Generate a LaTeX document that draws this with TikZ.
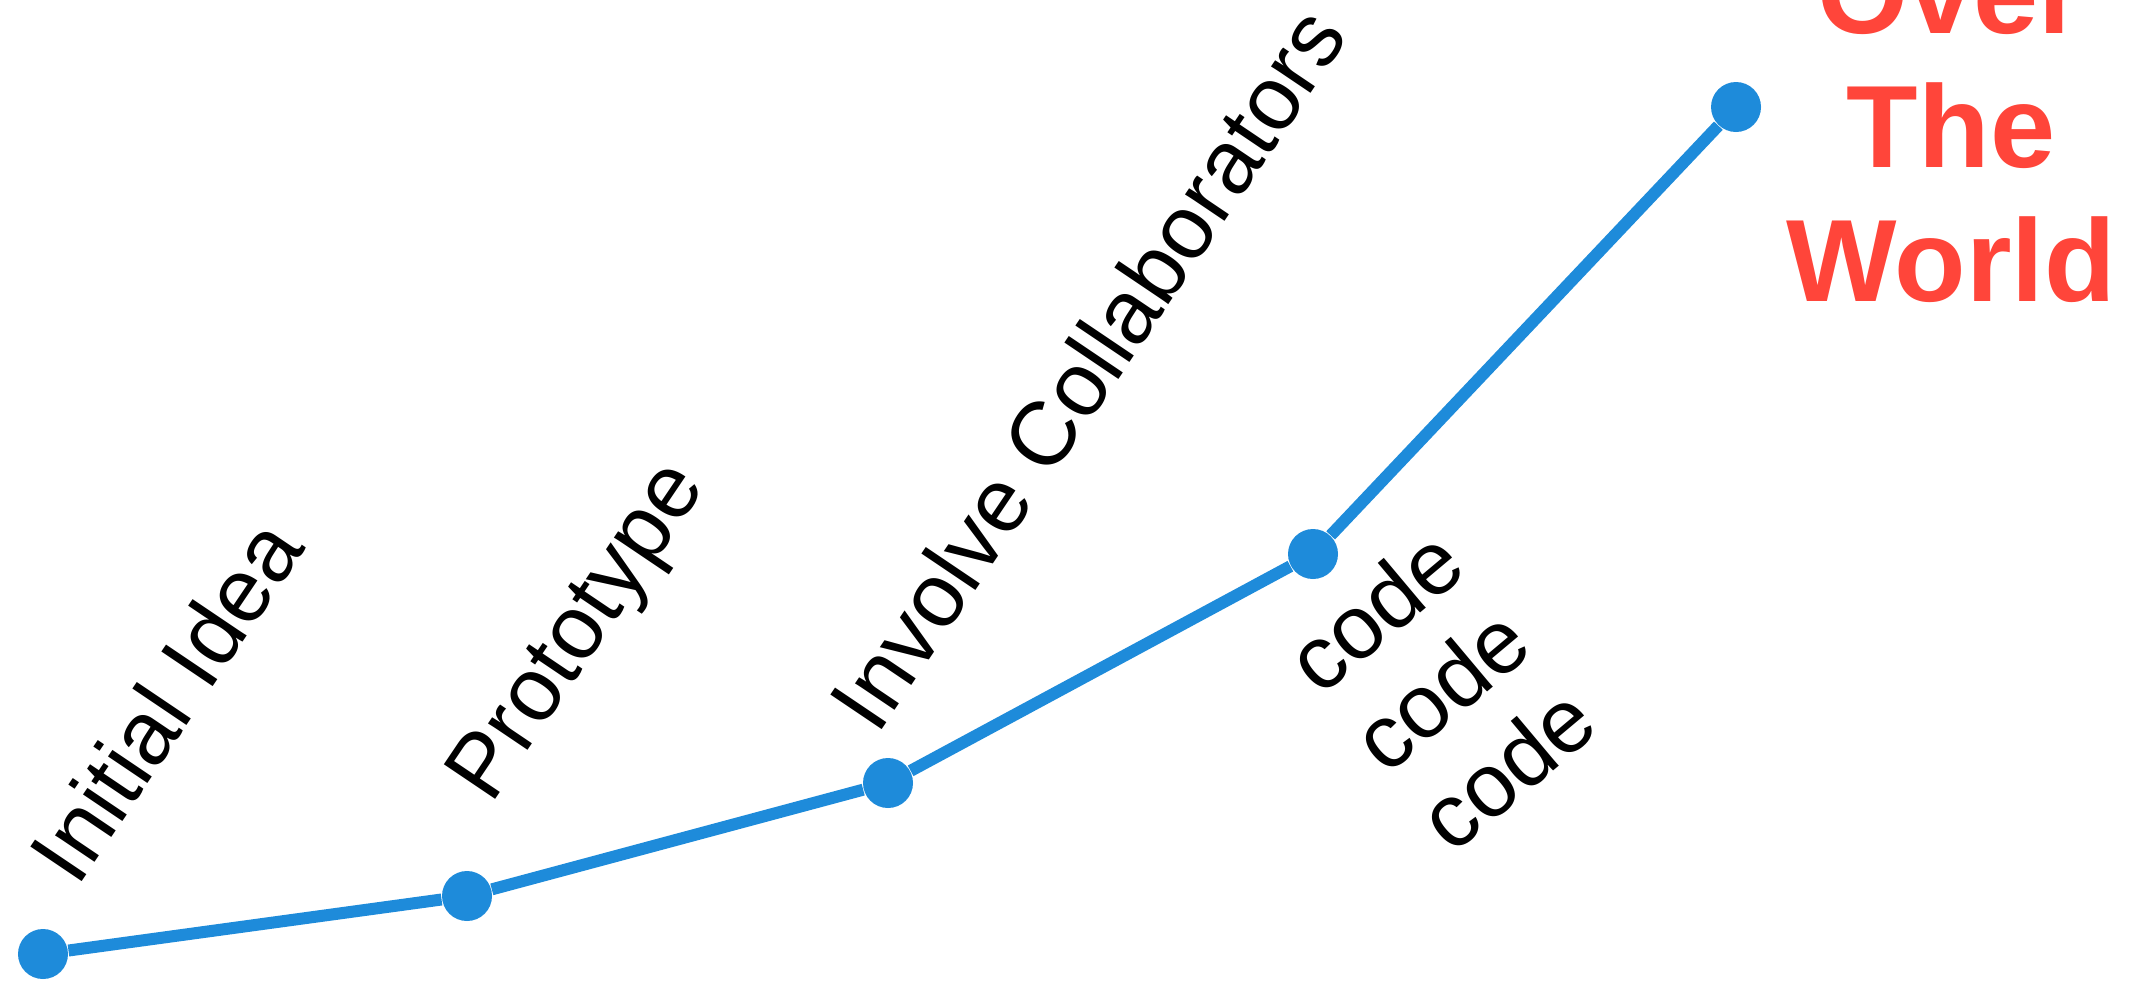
\documentclass[tikz,border=0pt]{standalone}
\usepackage{fontspec}
\setmainfont{Liberation Sans}
\usetikzlibrary{positioning}
\usetikzlibrary{calc}
\definecolor{track}{RGB}{30,139,218}
\definecolor{goal}{RGB}{255,69,58}
\newcommand\dotsize{0.5}
\newcommand\stagetilt{56}
\newcommand\codetilt{40}

\begin{document}
\begin{tikzpicture}
    \useasboundingbox (0, 0) rectangle (21.48, 9.8);
    \clip (0, 0) rectangle (21.48, 9.8);

    \tikzset{
        milestone/.style={
            circle, fill=track,
            inner sep=0pt,
            minimum size={\dotsize cm},
        },
        stage label/.style={
            inner sep=0pt, anchor=base west,
            font=\fontsize{25.6pt}{29.3pt}\selectfont,
        },
    }

    % Milestones
    \node[milestone] (idea) at (0.43, 0.26) {};
    \node[milestone] (prototype) at (4.67, 0.84) {};
    \node[milestone] (collab) at (8.88, 1.97) {};
    \node[milestone] (coding) at (13.13, 4.26) {};
    \node[milestone] (world) at (17.36, 8.73) {};

    % Track
    \draw[track, line width=0.12cm]
        (idea) -- (prototype) -- (collab) -- (coding) -- (world);

    % Labels (multi-line nodes sit on their last line)
    \node[stage label, rotate=\stagetilt] (idea-label) at (0.77, 0.91) {Initial Idea};
    \node[stage label, rotate=\stagetilt] (prototype-label) at (4.91, 1.74) {Prototype};
    \node[stage label, rotate=\stagetilt] (collab-label) at (8.77, 2.43) {Involve Collaborators};
    \node[stage label, rotate=\codetilt, align=left] (coding-label)
        at (14.52, 1.24) {code\\code\\code};

    \node[
        inner sep=0pt, anchor=base, align=center,
        text=goal, font=\fontsize{33.3pt}{38pt}\selectfont\bfseries,
    ] (world-label) at (19.51, 6.79) {Over\\The\\World};
\end{tikzpicture}
\end{document}
